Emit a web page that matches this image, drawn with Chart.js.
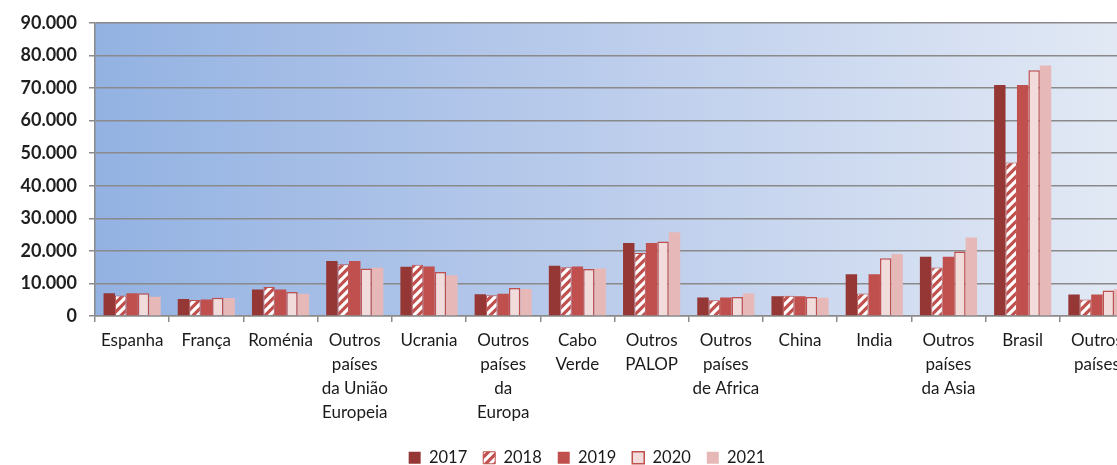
<!DOCTYPE html>
<html>
<head>
<meta charset="utf-8">
<script src="https://cdn.jsdelivr.net/npm/chart.js@4"></script>
<style>
  html, body { margin: 0; padding: 0; background: #fff; overflow: hidden; }
  #wrap { width: 1117px; height: 465px; overflow: hidden; position: relative; }
  #wrap canvas { position: absolute; left: 0; top: 0; }
</style>
</head>
<body>
<div id="wrap"><canvas id="chart" width="1175" height="476" style="width:1175px;height:476px"></canvas></div>
<script>
    // categories (multi-line labels as in the original)
    const categories = [
        ['Espanha'], ['França'], ['Roménia'], ['Outros', 'países', 'da União', 'Europeia'],
        ['Ucrania'], ['Outros', 'países', 'da', 'Europa'], ['Cabo', 'Verde'], ['Outros', 'PALOP'],
        ['Outros', 'países', 'de Africa'], ['China'], ['India'], ['Outros', 'países', 'da Asia'],
        ['Brasil'], ['Outros', 'países']
    ];

    const years = ['2017', '2018', '2019', '2020', '2021'];

    // values
    const values2017 = [7000, 5200, 8100, 16900, 15100, 6700, 15400, 22400, 5700, 6100, 12800, 18200, 70900, 6600];
    const values2018 = [6300, 4900, 8900, 15900, 15700, 6400, 15000, 19300, 4800, 6200, 6900, 14900, 47100, 5100];
    const values2019 = [7000, 5100, 8100, 16900, 15200, 6800, 15200, 22400, 5700, 6100, 12800, 18200, 70900, 6600];
    const values2020 = [7000, 5600, 7400, 14600, 13500, 8600, 14400, 22900, 5800, 5800, 17700, 19800, 75400, 7800];
    const values2021 = [5900, 5500, 6800, 14800, 12500, 8300, 14600, 25700, 6900, 5600, 19000, 24100, 76900, 8200];

    const yTicks = [0, 10000, 20000, 30000, 40000, 50000, 60000, 70000, 80000, 90000];

    // diagonal hatch used for 2018
    function makeHatch() {
        const c = document.createElement('canvas');
        c.width = 9; c.height = 9;
        const g = c.getContext('2d');
        g.fillStyle = '#C0504D';
        g.fillRect(0, 0, 9, 9);
        g.strokeStyle = '#ffffff';
        g.lineWidth = 3.2;
        g.beginPath();
        g.moveTo(-1, 10); g.lineTo(10, -1);
        g.moveTo(-5.5, 5.5); g.lineTo(5.5, -5.5);
        g.moveTo(3.5, 14.5); g.lineTo(14.5, 3.5);
        g.stroke();
        return g.createPattern(c, 'repeat');
    }
    const hatch = makeHatch();

    // gradient background for the plot area + legend nudge to the right
    const plotBackground = {
        id: 'plotBackground',
        afterLayout(chart) {
            chart.legend.left += 20;
            chart.legend.right += 20;
        },
        beforeDraw(chart) {
            const {ctx, chartArea} = chart;
            const grad = ctx.createLinearGradient(chartArea.left, 0, chartArea.right, 0);
            grad.addColorStop(0, '#93B2E2');
            grad.addColorStop(0.5, '#BCCDEC');
            grad.addColorStop(1, '#E3EAF5');
            ctx.save();
            ctx.fillStyle = grad;
            ctx.fillRect(chartArea.left, chartArea.top, chartArea.right - chartArea.left, chartArea.bottom - chartArea.top);
            ctx.restore();
        }
    };

    Chart.defaults.font.family = 'Lato, "Open Sans", sans-serif';
    Chart.defaults.color = '#222';

    new Chart(document.getElementById('chart'), {
        type: 'bar',
        data: {
            labels: categories,
            datasets: [
                { label: years[0], data: values2017, backgroundColor: '#953735', borderWidth: 0 },
                { label: years[1], data: values2018, backgroundColor: hatch, borderColor: '#C0504D', borderWidth: 1 },
                { label: years[2], data: values2019, backgroundColor: '#C0504D', borderWidth: 0 },
                { label: years[3], data: values2020, backgroundColor: '#F2DCDB', borderColor: '#C0504D', borderWidth: 1.5 },
                { label: years[4], data: values2021, backgroundColor: '#E6B9B8', borderWidth: 0 }
            ]
        },
        options: {
            responsive: false,
            animation: false,
            layout: { padding: { top: 20, left: 0, right: 41, bottom: 0 } },
            datasets: { bar: { categoryPercentage: 0.77, barPercentage: 1.0 } },
            plugins: {
                legend: {
                    position: 'bottom',
                    labels: {
                        boxWidth: 12, boxHeight: 12, padding: 16,
                        font: { size: 16.5 }, color: '#1a1a1a'
                    }
                },
                tooltip: { enabled: false }
            },
            scales: {
                x: {
                    afterFit(scale) { scale.height = 117.5; },
                    grid: { drawOnChartArea: false, color: '#8a8a8a', lineWidth: 1.5, tickLength: 6, offset: true },
                    border: { color: '#8a8a8a', width: 1.5 },
                    ticks: {
                        autoSkip: false, maxRotation: 0, minRotation: 0, padding: 7,
                        font: { size: 17, lineHeight: 1.4 }, color: '#1a1a1a'
                    }
                },
                y: {
                    min: 0, max: 90000,
                    afterFit(scale) { scale.width = 95; },
                    afterBuildTicks(scale) { scale.ticks = yTicks.map(v => ({ value: v })); },
                    grid: { color: '#8a8a8a', lineWidth: 1.5, tickLength: 6 },
                    border: { color: '#8a8a8a', width: 1.5 },
                    ticks: {
                        padding: 12,
                        font: { size: 18, weight: 'bold' }, color: '#1f1f1f',
                        callback: v => v.toLocaleString('de-DE')
                    }
                }
            }
        },
        plugins: [plotBackground]
    });
</script>
</body>
</html>
